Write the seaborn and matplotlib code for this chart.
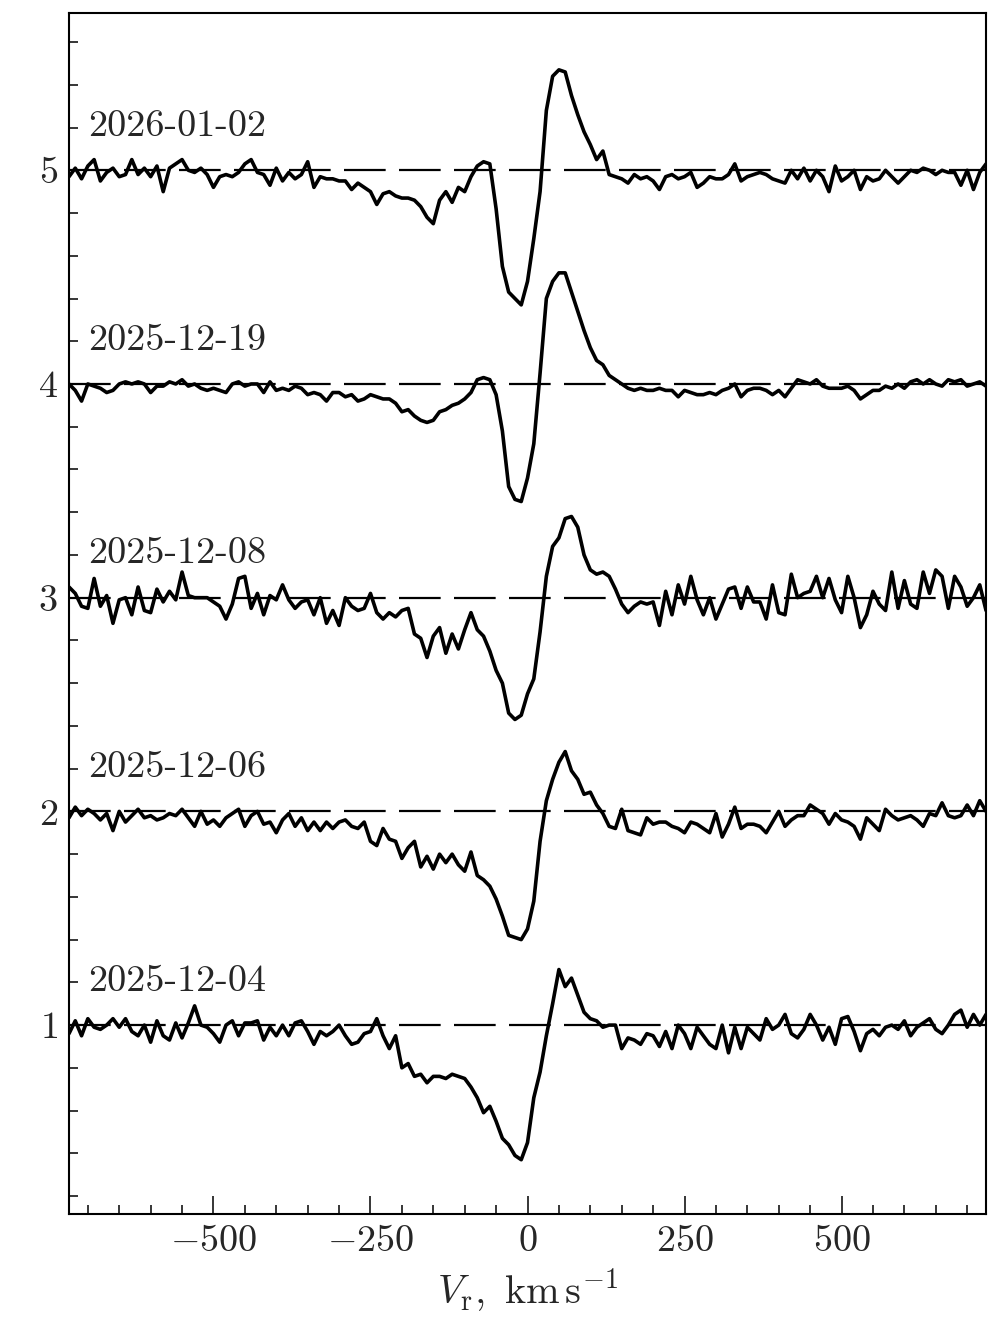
import numpy as np
import pandas as pd
import matplotlib
matplotlib.use("Agg")
import matplotlib.pyplot as plt
import seaborn as sns
from matplotlib.ticker import MultipleLocator

# ---------------- data ----------------
velocity = np.arange(-730, 731, 10)  # km/s sampling grid

dates = ["2025-12-04", "2025-12-06", "2025-12-08", "2025-12-19", "2026-01-02"]
offsets = [0, 1, 2, 3, 4]

flux_2026_01_02 = [
    0.97, 1.01, 0.96, 1.02, 1.05, 0.95, 0.99, 1.01, 0.97, 0.98,
    1.05, 0.98, 1.01, 0.97, 1.02, 0.90, 1.01, 1.03, 1.05, 1.00,
    0.99, 1.01, 0.98, 0.92, 0.97, 0.98, 0.97, 0.99, 1.03, 1.05,
    0.99, 0.98, 0.93, 1.01, 0.95, 0.99, 0.96, 0.98, 1.04, 0.92,
    0.97, 0.96, 0.96, 0.95, 0.95, 0.91, 0.94, 0.92, 0.90, 0.84,
    0.89, 0.90, 0.88, 0.87, 0.87, 0.86, 0.83, 0.78, 0.75, 0.86,
    0.90, 0.85, 0.92, 0.90, 0.97, 1.02, 1.04, 1.03, 0.82, 0.55,
    0.43, 0.40, 0.37, 0.48, 0.68, 0.90, 1.28, 1.44, 1.47, 1.46,
    1.35, 1.26, 1.18, 1.12, 1.05, 1.09, 0.98, 0.97, 0.96, 0.94,
    0.98, 0.96, 0.97, 0.95, 0.91, 0.97, 0.98, 0.96, 0.97, 0.99,
    0.92, 0.94, 0.97, 0.96, 0.96, 0.98, 1.03, 0.95, 0.97, 0.98,
    0.99, 0.98, 0.96, 0.95, 0.94, 1.00, 0.96, 1.01, 0.95, 1.00,
    0.97, 0.90, 1.02, 0.95, 0.97, 1.00, 0.91, 0.97, 0.95, 0.96,
    1.00, 0.97, 0.94, 0.97, 1.00, 0.99, 1.01, 1.00, 0.98, 1.00,
    0.99, 0.99, 0.93, 1.00, 0.91, 0.99, 1.03,
]

flux_2025_12_19 = [
    1.00, 0.97, 0.92, 1.00, 0.99, 0.98, 0.96, 0.97, 1.00, 1.01,
    1.00, 1.01, 1.00, 0.96, 0.99, 0.99, 1.01, 1.00, 1.02, 0.99,
    1.00, 0.98, 0.97, 0.98, 0.97, 0.96, 1.00, 1.01, 0.99, 1.00,
    1.00, 0.96, 1.01, 0.97, 0.98, 0.97, 0.99, 0.98, 0.95, 0.96,
    0.95, 0.92, 0.96, 0.96, 0.94, 0.95, 0.92, 0.93, 0.95, 0.94,
    0.93, 0.93, 0.91, 0.87, 0.88, 0.85, 0.83, 0.82, 0.83, 0.87,
    0.88, 0.90, 0.91, 0.93, 0.96, 1.02, 1.03, 1.02, 0.95, 0.78,
    0.52, 0.46, 0.45, 0.56, 0.72, 1.05, 1.40, 1.48, 1.52, 1.52,
    1.43, 1.34, 1.25, 1.17, 1.11, 1.09, 1.04, 1.02, 1.00, 0.98,
    0.97, 0.98, 0.97, 0.97, 0.98, 0.97, 0.97, 0.94, 0.97, 0.96,
    0.95, 0.95, 0.96, 0.95, 0.97, 0.98, 1.00, 0.94, 0.97, 0.98,
    0.98, 0.97, 0.95, 0.97, 0.94, 0.98, 1.02, 1.01, 1.00, 1.02,
    0.99, 0.98, 0.98, 0.98, 0.99, 0.97, 0.93, 0.95, 0.97, 0.97,
    0.99, 0.98, 1.00, 0.98, 1.01, 1.02, 1.00, 1.02, 1.00, 0.99,
    1.02, 1.01, 1.02, 0.99, 1.00, 1.01, 0.99,
]

flux_2025_12_08 = [
    1.05, 1.02, 0.96, 0.95, 1.09, 0.96, 1.01, 0.88, 0.99, 1.00,
    0.92, 1.05, 0.94, 0.93, 1.04, 0.98, 1.03, 0.99, 1.12, 1.01,
    1.00, 1.00, 1.00, 0.98, 0.96, 0.90, 0.97, 1.09, 1.10, 0.95,
    1.02, 0.92, 1.01, 0.99, 1.06, 0.99, 0.95, 0.98, 0.99, 0.92,
    1.00, 0.88, 0.94, 0.87, 1.00, 0.96, 0.94, 0.95, 1.02, 0.93,
    0.90, 0.93, 0.91, 0.94, 0.95, 0.83, 0.81, 0.72, 0.82, 0.86,
    0.74, 0.83, 0.76, 0.85, 0.93, 0.85, 0.82, 0.75, 0.66, 0.60,
    0.46, 0.43, 0.45, 0.55, 0.62, 0.84, 1.10, 1.24, 1.28, 1.37,
    1.38, 1.33, 1.20, 1.13, 1.11, 1.12, 1.10, 1.04, 0.97, 0.93,
    0.96, 0.98, 0.97, 0.98, 0.87, 1.03, 0.92, 1.06, 0.97, 1.10,
    0.99, 0.92, 1.00, 0.90, 0.97, 1.04, 1.05, 0.95, 1.05, 0.98,
    0.98, 0.90, 1.06, 0.93, 0.92, 1.11, 1.00, 1.02, 1.03, 1.10,
    1.00, 1.09, 0.99, 0.93, 1.10, 1.00, 0.86, 0.92, 1.03, 0.97,
    0.94, 1.12, 0.95, 1.08, 0.97, 0.95, 1.12, 1.02, 1.13, 1.10,
    0.95, 1.10, 1.05, 0.96, 1.00, 1.06, 0.94,
]

flux_2025_12_06 = [
    0.97, 1.02, 0.98, 1.01, 0.99, 0.96, 0.99, 0.91, 1.00, 0.95,
    0.98, 1.01, 0.97, 0.98, 0.96, 0.97, 0.99, 0.98, 1.01, 0.97,
    0.93, 1.00, 0.94, 0.96, 0.93, 0.97, 0.99, 1.01, 0.93, 0.98,
    1.00, 0.94, 0.95, 0.90, 0.96, 0.99, 0.93, 0.97, 0.91, 0.95,
    0.91, 0.95, 0.92, 0.95, 0.96, 0.93, 0.92, 0.95, 0.86, 0.84,
    0.92, 0.87, 0.86, 0.78, 0.83, 0.86, 0.74, 0.79, 0.73, 0.80,
    0.76, 0.80, 0.75, 0.72, 0.81, 0.70, 0.68, 0.65, 0.59, 0.51,
    0.42, 0.41, 0.40, 0.45, 0.58, 0.86, 1.05, 1.15, 1.23, 1.28,
    1.19, 1.15, 1.08, 1.09, 1.03, 0.99, 0.93, 0.92, 1.01, 0.91,
    0.90, 0.89, 0.97, 0.94, 0.95, 0.95, 0.93, 0.92, 0.90, 0.95,
    0.94, 0.92, 0.90, 0.99, 0.88, 0.94, 1.02, 0.92, 0.94, 0.94,
    0.93, 0.90, 0.95, 1.00, 0.93, 0.96, 0.98, 0.98, 1.03, 1.01,
    0.99, 0.94, 0.99, 0.96, 0.95, 0.93, 0.87, 0.97, 0.94, 0.91,
    1.01, 0.98, 0.96, 0.97, 0.98, 0.96, 0.93, 0.99, 0.98, 1.04,
    0.98, 0.97, 0.98, 1.03, 0.98, 1.05, 1.00,
]

flux_2025_12_04 = [
    0.96, 1.02, 0.95, 1.03, 0.99, 0.98, 1.00, 1.03, 0.99, 1.03,
    0.97, 0.95, 1.00, 0.92, 1.02, 0.95, 0.93, 1.01, 0.94, 1.01,
    1.09, 1.00, 0.99, 0.96, 0.92, 1.00, 1.02, 0.95, 1.01, 1.01,
    1.02, 0.93, 0.99, 0.95, 1.00, 0.95, 1.01, 1.02, 0.97, 0.91,
    0.97, 0.95, 0.97, 1.00, 0.95, 0.91, 0.92, 0.96, 0.97, 1.03,
    0.95, 0.89, 0.95, 0.80, 0.82, 0.76, 0.77, 0.73, 0.76, 0.76,
    0.75, 0.77, 0.76, 0.75, 0.71, 0.66, 0.59, 0.62, 0.55, 0.47,
    0.44, 0.39, 0.37, 0.45, 0.66, 0.78, 0.95, 1.10, 1.26, 1.18,
    1.22, 1.14, 1.06, 1.03, 1.02, 0.99, 1.00, 1.00, 0.89, 0.94,
    0.93, 0.91, 0.96, 0.95, 0.90, 0.97, 0.89, 1.00, 0.96, 0.89,
    0.99, 0.95, 0.91, 0.89, 1.00, 0.87, 0.99, 0.89, 0.99, 0.96,
    0.93, 1.03, 0.98, 1.00, 1.05, 0.96, 0.94, 0.98, 1.05, 1.00,
    0.93, 0.99, 0.91, 1.03, 1.04, 0.97, 0.88, 0.96, 0.98, 0.95,
    0.99, 1.00, 0.98, 1.02, 0.95, 0.99, 1.01, 1.03, 0.98, 0.96,
    1.00, 1.05, 1.07, 0.99, 1.05, 1.00, 1.05,
]

spectra = [flux_2025_12_04, flux_2025_12_06, flux_2025_12_08,
           flux_2025_12_19, flux_2026_01_02]

y_ticks = [1, 2, 3, 4, 5]
x_ticks = [-500, -250, 0, 250, 500]

# ---------------- style ----------------
sns.set_style("ticks")
plt.rcParams["font.family"] = "serif"
plt.rcParams["font.serif"] = ["cmr10", "DejaVu Serif"]
plt.rcParams["mathtext.fontset"] = "cm"
plt.rcParams["axes.formatter.use_mathtext"] = True
plt.rcParams["axes.unicode_minus"] = True

FS = 27.5

fig = plt.figure(figsize=(9.97, 13.21), dpi=100)
ax = fig.add_axes([0.0692, 0.081, 0.9198, 0.909])

for date, off, flux in zip(dates, offsets, spectra):
    df = pd.DataFrame({"v": velocity, "f": np.asarray(flux) + off})
    level = 1 + off
    ax.axhline(level, color="black", lw=1.6, dashes=(18.75, 6.0), zorder=1)
    sns.lineplot(data=df, x="v", y="f", color="black", lw=2.6, ax=ax,
                 zorder=2, estimator=None, solid_joinstyle="round")
    ax.text(-700, level + 0.205, date, ha="left", va="center", fontsize=FS)

ax.set_xlim(-730, 730)
ax.set_ylim(0.116, 5.735)

ax.xaxis.set_major_locator(MultipleLocator(250))
ax.xaxis.set_minor_locator(MultipleLocator(50))
ax.yaxis.set_major_locator(MultipleLocator(1))
ax.yaxis.set_minor_locator(MultipleLocator(0.2))
ax.set_xticks(x_ticks)
ax.set_yticks(y_ticks)

ax.tick_params(which="both", direction="in", top=False, right=False,
               labelsize=FS, width=1.3)
ax.tick_params(which="major", length=13, pad=8)
ax.tick_params(which="minor", length=6.5)
for s in ax.spines.values():
    s.set_linewidth(1.5)
    s.set_color("black")
    s.set_visible(True)

ax.set_xlabel(r"$V_{\rm r},\ {\rm km\,s^{-1}}$", fontsize=29, labelpad=6)
ax.set_ylabel("")

fig.savefig("out.png", dpi=100)
